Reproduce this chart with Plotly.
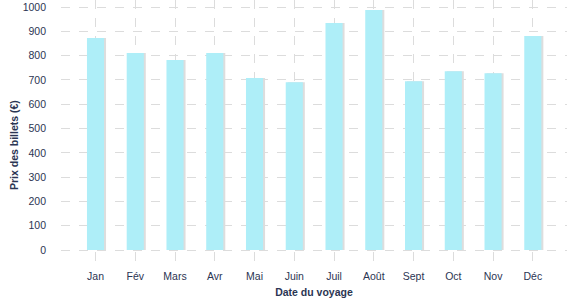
import plotly.graph_objects as go

months = ["Jan", "Fév", "Mars", "Avr", "Mai", "Juin", "Juil", "Août", "Sept", "Oct", "Nov", "Déc"]
prices = [873, 811, 782, 811, 708, 691, 934, 988, 695, 736, 728, 881]
y_ticks = list(range(0, 1001, 100))

TXT = "#2b3553"
GRID = "#dcdcdc"
BAR = "#aeeef8"
SHADOW = "#dddddd"
W = 0.43

fig = go.Figure()
fig.add_trace(go.Bar(x=months, y=prices, width=W, offset=-W / 2 + 0.05,
                     marker=dict(color=SHADOW, line=dict(width=0)), hoverinfo="skip",
                     showlegend=False))
fig.add_trace(go.Bar(x=months, y=prices, width=W, offset=-W / 2,
                     marker=dict(color=BAR, line=dict(width=0)), showlegend=False))

fig.add_annotation(text="<b>Prix des billets (€)</b>", textangle=-90,
                   xref="paper", yref="paper", x=(14 - 61) / 506, y=(268 - 145) / 268,
                   xanchor="center", yanchor="middle", showarrow=False,
                   font=dict(size=10.5, color=TXT))

fig.update_layout(
    width=577, height=300,
    margin=dict(l=61, r=10, t=0, b=32),
    barmode="overlay",
    plot_bgcolor="white", paper_bgcolor="white",
    font=dict(family="Liberation Sans, Arial, sans-serif", size=10.5, color=TXT),
    xaxis=dict(
        range=[-0.868, 11.86],
        showgrid=True, gridcolor=GRID, griddash="dash", gridwidth=1,
        zeroline=False, showline=False, ticks="",
        tickfont=dict(size=10.5, color=TXT),
        title=dict(text="<b>Date du voyage</b>", font=dict(size=10.5, color=TXT), standoff=8),
    ),
    yaxis=dict(
        range=[-74, 1029],
        tickvals=y_ticks,
        showgrid=True, gridcolor=GRID, griddash="dash", gridwidth=1,
        zeroline=False, showline=False, ticks="",
        ticklabelstandoff=14,
        tickfont=dict(size=10.5, color=TXT),
    ),
)

fig.write_html("out.html")
